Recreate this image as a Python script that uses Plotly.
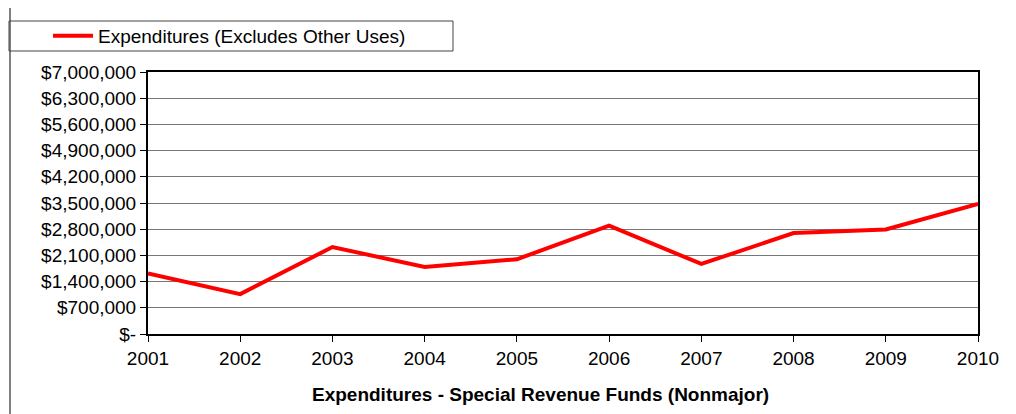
import plotly.graph_objects as go

years = [2001, 2002, 2003, 2004, 2005, 2006, 2007, 2008, 2009, 2010]
expenditures = [1616000, 1065000, 2324000, 1790000, 1996000,
                2893000, 1871000, 2696000, 2795000, 3478000]

tick_vals = [0, 700000, 1400000, 2100000, 2800000, 3500000,
             4200000, 4900000, 5600000, 6300000, 7000000]
tick_text = ["$-"] + ["${:,.0f}".format(v) for v in tick_vals[1:]]

# page body has an 8px margin, so the figure is drawn 8px smaller and offset
OFF = 8
W, H = 1016 - OFF, 414 - OFF
L, R, T, B = 148 - OFF, 38, 72 - OFF, 80
pw, ph = W - L - R, H - T - B


def px_x(x):
    return (x - OFF - L) / pw


def px_y(y):
    return (H - B - (y - OFF)) / ph


font = dict(family="Liberation Sans, Arial, sans-serif", size=19, color="black")

fig = go.Figure()
fig.add_trace(go.Scatter(
    x=years,
    y=expenditures,
    mode="lines",
    name="Expenditures (Excludes Other Uses)",
    line=dict(color="#ff0000", width=4),
))

fig.update_layout(
    width=W,
    height=H,
    margin=dict(l=L, r=R, t=T, b=B, autoexpand=False),
    paper_bgcolor="white",
    plot_bgcolor="white",
    font=font,
    showlegend=True,
    legend=dict(
        x=px_x(48),
        y=px_y(17),
        xanchor="left",
        yanchor="top",
        bgcolor="rgba(0,0,0,0)",
        borderwidth=0,
        font=font,
        itemwidth=40,
    ),
)

fig.update_xaxes(
    range=[2001, 2010],
    tickvals=years,
    ticks="outside",
    ticklen=6,
    tickcolor="black",
    showline=True,
    linecolor="black",
    linewidth=2,
    mirror=True,
    showgrid=False,
    zeroline=False,
    tickfont=font,
)

fig.update_yaxes(
    range=[0, 7000000],
    tickvals=tick_vals,
    ticktext=tick_text,
    ticks="outside",
    ticklen=6,
    tickcolor="black",
    showline=True,
    linecolor="black",
    linewidth=2,
    mirror=True,
    showgrid=True,
    gridcolor="#777777",
    gridwidth=1,
    zeroline=False,
    tickfont=font,
)

# outer chart border
fig.add_shape(type="rect", xref="paper", yref="paper",
              x0=px_x(10), x1=px_x(1030), y0=px_y(7), y1=px_y(430),
              line=dict(color="black", width=1), layer="below")
# legend box
fig.add_shape(type="rect", xref="paper", yref="paper",
              x0=px_x(9), x1=px_x(453), y0=px_y(21), y1=px_y(51),
              line=dict(color="#444444", width=1), layer="below")

fig.add_annotation(
    text="<b>Expenditures - Special Revenue Funds (Nonmajor)</b>",
    xref="paper", yref="paper",
    x=px_x(540), y=px_y(394),
    xanchor="center", yanchor="middle",
    showarrow=False,
    font=font,
)

fig.write_html("out.html")
